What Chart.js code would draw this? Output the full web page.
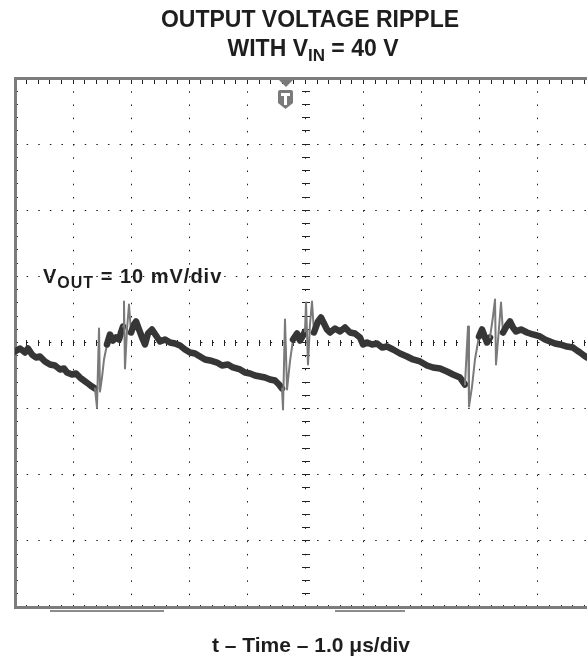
<!DOCTYPE html>
<html>
<head>
<meta charset="utf-8">
<script src="https://cdn.jsdelivr.net/npm/chart.js@4.4.0/dist/chart.umd.min.js"></script>
<style>
html,body{margin:0;padding:0;background:#fff;overflow:hidden;width:587px;height:660px;}
#wrap{position:relative;width:587px;height:660px;overflow:hidden;background:#fff;}
#c{position:absolute;left:0;top:0;}
.t{position:absolute;font-family:"Liberation Sans",Arial,Helvetica,sans-serif;font-weight:bold;color:#1e1e1e;white-space:nowrap;line-height:1;}
.bar{position:absolute;height:2px;background:#8c8c8c;}
</style>
</head>
<body>
<div id="wrap">
<canvas id="c" width="610" height="660"></canvas>
<div class="t" style="left:0;width:620px;text-align:center;top:8px;font-size:23px">OUTPUT VOLTAGE RIPPLE</div>
<div class="t" style="left:6px;width:614px;text-align:center;top:37px;font-size:23px">WITH V<span style="font-size:17px;position:relative;top:5px">IN</span> = 40 V</div>
<div class="t" style="left:43px;top:266px;font-size:20px;letter-spacing:1px">V<span style="font-size:16px;position:relative;top:5px">OUT</span> = 10 mV/div</div>
<div class="t" style="left:0;width:622px;text-align:center;top:634px;font-size:21px">t – Time – 1.0 μs/div</div>
<div class="bar" style="left:50px;top:610px;width:114px"></div>
<div class="bar" style="left:335px;top:610px;width:70px"></div>
<svg style="position:absolute;left:277px;top:78px" width="18" height="32">
  <polygon points="2,2 16,2 9,9" fill="#7a7a7a"/>
  <path d="M1,14 q0,-2 2,-2 h11 q2,0 2,2 v11 l-7.5,6 l-7.5,-6 z" fill="#7a7a7a"/>
  <rect x="4" y="15" width="9" height="3" fill="#fff"/>
  <rect x="7" y="15" width="3" height="12" fill="#fff"/>
</svg>
</div>
<script>
// Time axis: 1.0 us/div, 10 divisions; voltage axis: 10 mV/div, 8 divisions
const timeMin = 0, timeMax = 10, timeMajor = 1, timeMinor = 0.2;
const voltMin = -40, voltMax = 40, voltMajor = 10, voltMinor = 2;

// Output voltage ripple trace (t in us, ripple in mV)
const timeUs = [
  0.000,0.086,0.172,0.224,0.293,0.361,0.430,0.516,0.602,0.688,0.775,0.843,0.895,0.981,1.050,1.119,1.188,1.256,1.325,1.377,
  1.411,1.446,1.463,1.497,1.532,1.583,1.635,1.687,1.738,1.790,1.824,1.859,1.876,1.893,1.928,1.962,1.997,2.048,2.083,2.134,
  2.186,2.238,2.289,2.358,2.427,2.496,2.582,2.668,2.754,2.840,2.926,3.012,3.098,3.184,3.270,3.356,3.477,3.563,3.666,3.752,
  3.873,3.959,4.045,4.131,4.217,4.303,4.389,4.475,4.544,4.596,4.613,4.647,4.682,4.733,4.785,4.854,4.905,4.957,4.991,5.009,
  5.043,5.077,5.112,5.146,5.215,5.267,5.318,5.370,5.422,5.508,5.594,5.680,5.766,5.852,5.938,5.990,6.059,6.145,6.231,6.317,
  6.403,6.506,6.627,6.747,6.850,6.971,7.091,7.194,7.315,7.435,7.539,7.659,7.745,7.797,7.814,7.866,7.917,7.986,8.038,8.090,
  8.124,8.176,8.227,8.262,8.279,8.331,8.365,8.399,8.468,8.520,8.571,8.623,8.709,8.812,8.916,9.036,9.122,9.208,9.294,9.380,
  9.501,9.604,9.673,9.725,9.793,9.845,9.931
];
const rippleMv = [
  -1.36,-0.91,-1.51,-0.91,-1.82,-2.27,-2.12,-2.87,-3.33,-3.48,-4.08,-3.93,-4.54,-4.84,-4.69,-5.30,-5.75,-6.20,-6.66,-6.96,
  -9.83,2.12,-7.41,-5.30,-2.57,-0.30,1.21,0.30,0.76,0.45,1.51,2.42,6.20,-3.93,1.97,5.75,1.51,2.72,3.18,1.97,
  0.76,-0.30,1.36,1.97,1.06,0.15,0.45,0.00,-0.15,-0.45,-1.06,-1.51,-1.66,-2.12,-2.57,-2.72,-3.03,-3.48,-3.33,-3.78,
  -4.08,-4.54,-4.69,-4.99,-5.14,-5.30,-5.60,-5.75,-6.35,-6.96,-10.14,3.48,-7.11,-2.87,0.45,1.36,0.30,1.06,1.66,6.05,
  -3.33,2.72,6.20,1.51,3.18,3.78,2.87,1.97,1.51,2.12,1.66,2.27,1.51,1.36,0.76,-0.30,0.00,-0.30,-0.15,-0.76,
  -0.61,-1.06,-1.66,-2.12,-2.57,-2.87,-3.48,-3.78,-3.93,-4.39,-4.84,-5.30,-6.35,2.42,-9.68,-6.66,-2.57,0.91,1.97,0.76,
  0.00,0.76,3.93,6.51,-3.33,2.27,6.05,1.51,2.57,3.18,2.27,1.66,1.97,1.51,1.21,0.91,0.45,0.15,-0.15,-0.30,
  -0.61,-0.76,-1.21,-1.51,-1.97,-2.27,-1.97
];

const points = timeUs.map((t, i) => ({ x: t, y: rippleMv[i] }));
const isFast = ctx => {
  const dx = ctx.p1.parsed.x - ctx.p0.parsed.x;
  const dy = Math.abs(ctx.p1.parsed.y - ctx.p0.parsed.y);
  return dx > 0 && dy / dx > 40;
};

const dotGrid = { color: '#1c1c1c', lineWidth: 1, drawTicks: false };
const tickAxis = (axis, pos, step, len, border) => ({
  type: 'linear', axis: axis, position: pos,
  min: axis === 'x' ? timeMin : voltMin, max: axis === 'x' ? timeMax : voltMax,
  ticks: { display: false, stepSize: step },
  grid: { drawOnChartArea: false, drawTicks: true, tickLength: len, tickColor: '#222', tickWidth: 1 },
  border: border ? { display: true, color: '#7c7c7c', width: 3 } : { display: false }
});

new Chart(document.getElementById('c'), {
  type: 'line',
  data: {
    datasets: [{
      data: points,
      borderColor: '#363636',
      borderWidth: 6.5,
      pointRadius: 0,
      tension: 0,
      borderJoinStyle: 'round',
      borderCapStyle: 'round',
      segment: {
        borderWidth: ctx => isFast(ctx) ? 2 : undefined,
        borderColor: ctx => isFast(ctx) ? '#7a7a7a' : undefined
      }
    }]
  },
  options: {
    responsive: false,
    animation: false,
    devicePixelRatio: 1,
    layout: { padding: { left: 15, top: 78, right: 14, bottom: 53 } },
    plugins: { legend: { display: false }, tooltip: { enabled: false }, title: { display: false } },
    scales: {
      x: {
        type: 'linear', min: timeMin, max: timeMax, position: 'bottom',
        ticks: { display: false, stepSize: timeMajor },
        grid: dotGrid,
        border: { display: false, dash: [1.5, 11.72] }
      },
      y: {
        type: 'linear', min: voltMin, max: voltMax, position: 'left',
        ticks: { display: false, stepSize: voltMajor },
        grid: dotGrid,
        border: { display: false, dash: [1.5, 10.12] }
      },
      frameTop: tickAxis('x', { y: voltMax }, timeMinor, 4, true),
      frameBottom: tickAxis('x', { y: voltMin }, timeMinor, -4, true),
      frameLeft: tickAxis('y', { x: timeMin }, voltMinor, -4, true),
      centerXDown: tickAxis('x', { y: 0 }, timeMinor, 3, false),
      centerXUp: tickAxis('x', { y: 0 }, timeMinor, -3, false),
      centerYLeft: tickAxis('y', { x: 5 }, voltMinor, 4, false),
      centerYRight: tickAxis('y', { x: 5 }, voltMinor, -4, false)
    }
  }
});
</script>
</body>
</html>
